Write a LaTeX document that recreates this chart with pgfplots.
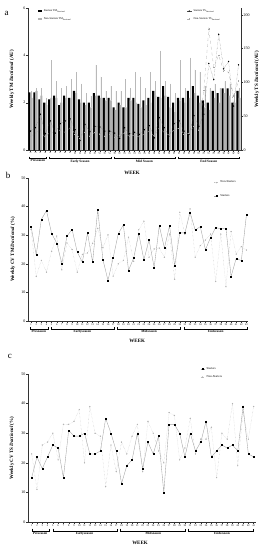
\documentclass[border=0pt]{standalone}
\usepackage{fontspec}
\setmainfont{Liberation Serif}
\usepackage{pgfplots}
\usepackage{pgfplotstable}
\pgfplotsset{compat=1.18}

\pgfplotstableread{
w tmS tmN errN tsS tsN
1 2.43 2.2 0.3 28 20
2 2.43 2.5 0.1 33 25
3 2.14 2.3 0.3 53 30
4 2.00 1.9 0.3 24 18
5 2.14 2.2 1.6 43 28
6 2.30 2.2 0.7 25 22
7 1.90 2.0 0.6 39 30
8 2.30 2.2 0.5 43 26
9 2.20 2.2 0.8 46 33
10 2.50 2.4 0.9 30 24
11 2.14 2.0 0.8 14 18
12 2.00 1.9 0.5 38 27
13 2.00 1.8 0.5 27 20
14 2.40 2.3 1.3 35 26
15 2.30 2.2 0.9 34 24
16 2.20 2.1 0.4 28 21
17 2.20 2.1 0.6 28 23
18 1.80 1.7 0.8 25 19
19 2.00 1.9 0.6 17 22
20 1.80 1.8 1.2 33 25
21 2.20 2.1 0.5 24 20
22 2.20 2.0 1.3 26 22
23 1.95 1.8 1.3 23 19
24 2.10 1.9 0.7 30 24
25 2.20 2.0 1.3 36 28
26 2.50 2.3 0.6 18 20
27 2.25 2.2 2.0 48 33
28 2.70 2.3 0.6 33 26
29 2.25 1.8 1.0 21 22
30 2.00 1.6 0.8 39 30
31 2.20 2.1 1.7 43 32
32 2.20 2.0 0.6 28 24
33 2.50 2.2 1.7 23 25
34 2.70 2.4 1.0 51 36
35 2.30 2.0 1.3 35 30
36 2.10 1.8 0.9 53 88
37 2.00 1.7 0.9 128 179
38 2.50 2.2 0.6 104 122
39 2.40 2.0 0.6 171 140
40 2.60 2.4 0.5 120 117
41 2.60 2.3 0.5 131 115
42 2.00 2.0 0.4 65 80
43 2.50 2.2 0.4 126 102
}\dataA

\pgfplotstableread{
w s n
1 33.1 32.0
2 23.1 15.6
3 35.5 21.2
4 38.6 17.1
5 30.7 24.4
6 27.2 29.7
7 20.2 17.9
8 29.7 27.3
9 32.0 25.0
10 24.1 17.1
11 20.6 23.3
12 30.8 23.8
13 20.6 27.2
14 39.0 32.4
15 21.5 25.6
16 14.2 30.1
17 22.0 15.7
18 30.5 20.0
19 33.6 21.2
20 17.7 29.3
21 22.0 20.9
22 30.5 31.9
23 21.4 34.9
24 28.4 22.3
25 18.7 25.2
26 33.3 25.5
27 25.5 22.3
28 33.3 30.4
29 19.3 14.6
30 30.8 38.0
31 30.8 30.4
32 38.0 39.2
33 31.8 22.3
34 33.0 26.4
35 24.9 28.3
36 29.2 30.4
37 32.7 13.8
38 32.2 30.4
39 32.4 12.0
40 15.6 31.3
41 21.9 23.4
42 21.1 26.0
43 37.2 24.8
}\dataB

\pgfplotstableread{
w s n
1 15 23
2 22 11
3 18 26
4 22 27
5 26 30
6 25 21
7 15 33
8 31 33
9 29 34
10 29 38
11 30 20
12 23 39
13 23 30
14 24 29
15 35 12
16 30 26
17 24 17
18 13 27
19 19 23
20 21 29
21 30 33
22 18 17
23 27 34
24 23 30
25 29 24
26 10 20
27 33 37
28 33 36
29 30 21
30 22 25
31 30 35
32 24 23
33 27 28
34 34 28
35 22 32
36 24 15
37 26 30
38 25 28
39 26 40
40 24 19
41 39 37
42 23 28
43 22 39
}\dataC

\pgfplotsset{
  base/.style={
    scale only axis, clip=false,
    /pgf/number format/assume math mode=true,
    axis line style={line width=0.35pt, black!80},
    tick style={line width=0.3pt, black!80},
    major tick length=1.6bp,
    tick align=outside,
    axis x line*=bottom, axis y line*=left,
    xtick={1,...,43},
    yticklabel style={font=\fontsize{4}{4.5}\selectfont, inner sep=0.8pt},
    ylabel style={font=\fontsize{5}{6}\selectfont\bfseries},
    legend cell align=left,
  },
}

\begin{document}
\begin{tikzpicture}
\path[use as bounding box] (0bp,0bp) rectangle (262bp,-550bp);

% ---------------- Panel a ----------------
\begin{axis}[base,
  at={(28bp,-150bp)}, anchor=south west, width=213bp, height=142bp,
  xmin=0.5, xmax=43.5, ymin=0, ymax=6, ytick={0,2,4,6},
  xticklabel style={rotate=90, anchor=east, font=\fontsize{2.6}{3}\selectfont, inner sep=0.6pt},
  ybar=0pt, bar width=2.1bp,
  ylabel={Weekly TM \textit{Dactional} (AU)},
  ylabel style={at={(axis description cs:-0.075,0.5)}, anchor=center},
  legend style={at={(axis description cs:0.045,1.005)}, anchor=north west, draw=none, fill=none,
    font=\fontsize{2.8}{3.2}\selectfont, inner sep=0pt, row sep=0.6pt,
    /tikz/every even column/.append style={column sep=1pt}},
  legend image code/.code={\fill[#1] (0bp,-0.7bp) rectangle (4bp,0.9bp);},
]
\addplot[fill=black, draw=none] table[x=w, y=tmS] {\dataA};
\addlegendentry{Starters TM\textsubscript{\textit{Dactional}}}
\addplot[fill=gray!60, draw=none,
  error bars/.cd, y dir=plus, y explicit, error mark=none,
  error bar style={gray!55, line width=0.3pt}]
  table[x=w, y=tmN, y error=errN] {\dataA};
\addlegendentry{Non-Starters TM\textsubscript{\textit{Dactional}}}
% phases
\draw[line width=0.3pt] (axis cs:0.8,-0.28) -- (axis cs:0.8,-0.36) -- (axis cs:4.2,-0.36) -- (axis cs:4.2,-0.28);
\draw[line width=0.3pt] (axis cs:4.8,-0.28) -- (axis cs:4.8,-0.36) -- (axis cs:17.2,-0.36) -- (axis cs:17.2,-0.28);
\draw[line width=0.3pt] (axis cs:17.8,-0.28) -- (axis cs:17.8,-0.36) -- (axis cs:30.2,-0.36) -- (axis cs:30.2,-0.28);
\draw[line width=0.3pt] (axis cs:30.8,-0.28) -- (axis cs:30.8,-0.36) -- (axis cs:43.2,-0.36) -- (axis cs:43.2,-0.28);
\node[font=\fontsize{3.4}{4}\selectfont\bfseries, anchor=north, inner sep=0.5pt] at (axis cs:2.5,-0.38) {Preseason};
\node[font=\fontsize{3.4}{4}\selectfont\bfseries, anchor=north, inner sep=0.5pt] at (axis cs:11,-0.38) {Early Season};
\node[font=\fontsize{3.4}{4}\selectfont\bfseries, anchor=north, inner sep=0.5pt] at (axis cs:24,-0.38) {Mid Season};
\node[font=\fontsize{3.4}{4}\selectfont\bfseries, anchor=north, inner sep=0.5pt] at (axis cs:37,-0.38) {End Season};
\node[font=\fontsize{5}{6}\selectfont\bfseries] at (axis cs:21.5,-0.97) {WEEK};
\node[font=\fontsize{9}{10}\selectfont] at (axis description cs:-0.1,0.96) {a};
\end{axis}

\begin{axis}[base,
  at={(28bp,-150bp)}, anchor=south west, width=213bp, height=142bp,
  xmin=0.5, xmax=43.5, ymin=0, ymax=210, ytick={0,50,100,150,200},
  axis x line=none, axis y line*=right,
  ylabel={Weekly TS \textit{Dactional} (AU)},
  ylabel style={at={(axis description cs:1.075,0.5)}, anchor=center},
  legend style={at={(axis description cs:0.745,1.005)}, anchor=north west, draw=none, fill=none,
    font=\fontsize{2.8}{3.2}\selectfont, inner sep=0pt, row sep=0.6pt,
    /tikz/every even column/.append style={column sep=1pt}},
  legend image code/.code={\draw[#1, mark repeat=2, mark phase=2] plot coordinates {(0bp,0bp) (2.2bp,0bp) (4.4bp,0bp)};},
]
\addplot[black!70, densely dotted, line width=0.3pt, mark=*, mark size=0.5bp, mark options={solid, fill=black, draw=black}]
  table[x=w, y=tsS] {\dataA};
\addlegendentry{Starters TS\textsubscript{\textit{Dactional}}}
\addplot[gray!60, dashed, line width=0.3pt, mark=+, mark size=0.6bp, mark options={solid, gray!70}]
  table[x=w, y=tsN] {\dataA};
\addlegendentry{Non-Starters TS\textsubscript{\textit{Dactional}}}
\end{axis}

% ---------------- Panel b ----------------
\begin{axis}[base,
  at={(28bp,-321bp)}, anchor=south west, width=220bp, height=143bp,
  xmin=0.4, xmax=43.3, ymin=0, ymax=50, ytick={0,10,...,50},
  xticklabel style={font=\fontsize{2.6}{3}\selectfont, inner sep=0.6pt},
  ylabel={Weekly CV TM \textit{Dactional} (\%)},
  ylabel style={at={(axis description cs:-0.068,0.5)}, anchor=center},
  legend style={at={(axis description cs:0.845,0.995)}, anchor=north west, draw=none, fill=none,
    font=\fontsize{3}{3.4}\selectfont, inner sep=0pt, row sep=6pt,
    /tikz/every even column/.append style={column sep=1.5pt}},
  legend image code/.code={\draw[#1, mark repeat=2, mark phase=2] plot coordinates {(0bp,0bp) (2bp,0bp) (4bp,0bp)};},
  reverse legend,
]
\addplot[gray!75, line width=0.35pt, mark=square*, mark size=0.5bp, mark options={solid, fill=black, draw=black}]
  table[x=w, y=s] {\dataB};
\addlegendentry{Starters}
\addplot[gray!50, densely dotted, line width=0.35pt, mark=*, mark size=0.45bp, mark options={solid, fill=gray!60, draw=gray!60}]
  table[x=w, y=n] {\dataB};
\addlegendentry{Non-Starters}
\draw[line width=0.3pt] (axis cs:0.8,-2.1) -- (axis cs:0.8,-2.9) -- (axis cs:4.3,-2.9) -- (axis cs:4.3,-2.1);
\draw[line width=0.3pt] (axis cs:5.0,-2.1) -- (axis cs:5.0,-2.9) -- (axis cs:17.2,-2.9) -- (axis cs:17.2,-2.1);
\draw[line width=0.3pt] (axis cs:17.8,-2.1) -- (axis cs:17.8,-2.9) -- (axis cs:30.1,-2.9) -- (axis cs:30.1,-2.1);
\draw[line width=0.3pt] (axis cs:30.8,-2.1) -- (axis cs:30.8,-2.9) -- (axis cs:43.1,-2.9) -- (axis cs:43.1,-2.1);
\node[font=\fontsize{3.4}{4}\selectfont\bfseries, anchor=north, inner sep=0.5pt] at (axis cs:2.5,-3.1) {Preseason};
\node[font=\fontsize{3.4}{4}\selectfont\bfseries, anchor=north, inner sep=0.5pt] at (axis cs:11,-3.1) {Earlyseason};
\node[font=\fontsize{3.4}{4}\selectfont\bfseries, anchor=north, inner sep=0.5pt] at (axis cs:24,-3.1) {Midseason};
\node[font=\fontsize{3.4}{4}\selectfont\bfseries, anchor=north, inner sep=0.5pt] at (axis cs:37,-3.1) {Endseason};
\node[font=\fontsize{5}{6}\selectfont\bfseries] at (axis cs:21.7,-7.0) {WEEK};
\node[font=\fontsize{9}{10}\selectfont] at (axis description cs:-0.09,1.02) {b};
\end{axis}

% ---------------- Panel c ----------------
\begin{axis}[base,
  at={(28bp,-522bp)}, anchor=south west, width=228bp, height=148bp,
  xmin=0.3, xmax=43.45, ymin=0, ymax=50, ytick={0,10,...,50},
  xticklabel style={font=\fontsize{2.6}{3}\selectfont, inner sep=0.6pt},
  ylabel={Weekly CV TS \textit{Dactional} (\%)},
  ylabel style={at={(axis description cs:-0.07,0.5)}, anchor=center},
  legend style={at={(axis description cs:0.755,1.06)}, anchor=north west, draw=none, fill=none,
    font=\fontsize{3}{3.4}\selectfont, inner sep=0pt, row sep=0.6pt,
    /tikz/every even column/.append style={column sep=1.5pt}},
  legend image code/.code={\draw[#1, mark repeat=2, mark phase=2] plot coordinates {(0bp,0bp) (2bp,0bp) (4bp,0bp)};},
]
\addplot[gray!75, line width=0.35pt, mark=square*, mark size=0.5bp, mark options={solid, fill=black, draw=black}]
  table[x=w, y=s] {\dataC};
\addlegendentry{Starters}
\addplot[gray!50, densely dotted, line width=0.35pt, mark=*, mark size=0.45bp, mark options={solid, fill=gray!60, draw=gray!60}]
  table[x=w, y=n] {\dataC};
\addlegendentry{Non-Starters}
\draw[line width=0.3pt] (axis cs:1.0,-2.2) -- (axis cs:1.0,-3.0) -- (axis cs:4.3,-3.0) -- (axis cs:4.3,-2.2);
\draw[line width=0.3pt] (axis cs:5.0,-2.2) -- (axis cs:5.0,-3.0) -- (axis cs:17.2,-3.0) -- (axis cs:17.2,-2.2);
\draw[line width=0.3pt] (axis cs:17.8,-2.2) -- (axis cs:17.8,-3.0) -- (axis cs:30.0,-3.0) -- (axis cs:30.0,-2.2);
\draw[line width=0.3pt] (axis cs:30.6,-2.2) -- (axis cs:30.6,-3.0) -- (axis cs:43.0,-3.0) -- (axis cs:43.0,-2.2);
\node[font=\fontsize{3.4}{4}\selectfont\bfseries, anchor=north, inner sep=0.5pt] at (axis cs:2.6,-3.2) {Preseason};
\node[font=\fontsize{3.4}{4}\selectfont\bfseries, anchor=north, inner sep=0.5pt] at (axis cs:11,-3.2) {Earlyseason};
\node[font=\fontsize{3.4}{4}\selectfont\bfseries, anchor=north, inner sep=0.5pt] at (axis cs:24,-3.2) {Midseason};
\node[font=\fontsize{3.4}{4}\selectfont\bfseries, anchor=north, inner sep=0.5pt] at (axis cs:37,-3.2) {Endseason};
\node[font=\fontsize{5}{6}\selectfont\bfseries] at (axis cs:21.5,-7.1) {WEEK};
\node[font=\fontsize{9}{10}\selectfont] at (axis description cs:-0.08,1.12) {c};
\end{axis}
\end{tikzpicture}
\end{document}
